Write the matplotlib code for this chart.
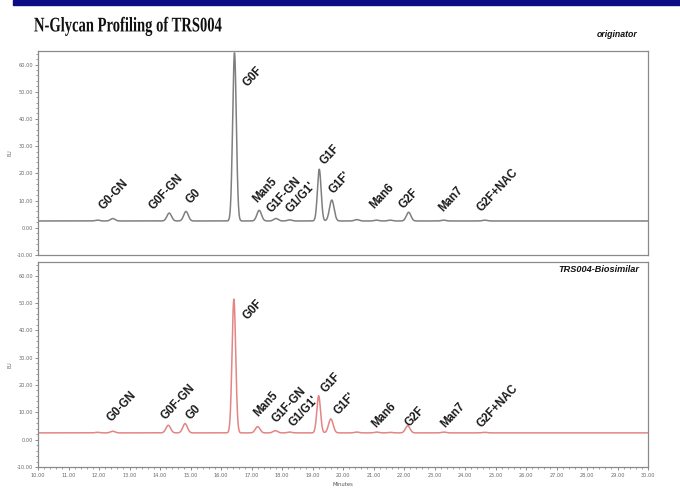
import numpy as np
import matplotlib
matplotlib.use("Agg")
import matplotlib.pyplot as plt
from matplotlib.ticker import MultipleLocator, FuncFormatter
from matplotlib.patheffects import AbstractPathEffect
from matplotlib.transforms import Affine2D, offset_copy

# ---- peak tables (retention time in minutes, apex signal in EU) ----
orig_names = ["", "G0-GN", "G0F-GN", "G0", "G0F", "Man5", "G1F-GN", "G1/G1'",
              "G1F", "G1F'", "", "Man6", "", "G2F", "Man7", "G2F+NAC"]
orig_rt = [11.95, 12.45, 14.30, 14.85, 16.44, 17.25, 17.80, 18.25,
           19.22, 19.63, 20.45, 21.10, 21.55, 22.15, 23.30, 24.65]
orig_apex = [2.8, 3.4, 5.4, 6.0, 64.3, 6.4, 3.4, 2.9,
             21.5, 10.2, 3.0, 2.8, 2.8, 5.7, 2.8, 2.8]

bios_names = ["", "G0-GN", "G0F-GN", "G0", "G0F", "Man5", "G1F-GN", "G1/G1'",
              "G1F", "G1F'", "", "Man6", "", "G2F", "Man7", "G2F+NAC"]
bios_rt = [11.95, 12.45, 14.27, 14.82, 16.42, 17.20, 17.78, 18.25,
           19.20, 19.60, 20.45, 21.10, 21.55, 22.12, 23.30, 24.65]
bios_apex = [2.7, 3.1, 5.3, 5.9, 51.4, 4.8, 3.3, 2.8,
             16.1, 7.6, 2.8, 2.8, 2.7, 5.1, 2.8, 2.7]

baseline_orig = 2.5
baseline_bios = 2.5

# label anchors (minutes, EU) for the rotated peak names
orig_label_at = [None, (12.06, 5.7), (13.70, 5.9), (14.90, 8.1), (16.78, 50.8),
                 (17.08, 8.4), (17.55, 4.8), (18.19, 4.5), (19.30, 22.2),
                 (19.61, 11.5), None, (20.93, 6.3), None, (21.88, 6.3),
                 (23.19, 5.1), (24.45, 5.1)]
bios_label_at = [None, (12.33, 5.9), (14.08, 6.4), (14.92, 6.4), (16.78, 43.0),
                 (17.14, 7.7), (17.74, 5.2), (18.28, 4.0), (19.32, 16.2),
                 (19.75, 8.3), None, (20.99, 3.4), None, (22.10, 4.0),
                 (23.25, 3.4), (24.45, 3.4)]

x_ticks = np.arange(10, 31, 1)
y_ticks = np.arange(-10, 61, 10)


def trace(t, rts, apexes, base):
    sig = np.full_like(t, base)
    for rt, ap in zip(rts, apexes):
        width = 0.06 if ap - base > 8 else 0.075
        sig += (ap - base) * np.exp(-0.5 * ((t - rt) / width) ** 2)
    return sig


class Condense(AbstractPathEffect):
    """Squeeze glyph outlines horizontally about a fixed display x."""

    def __init__(self, sx, x0):
        super().__init__()
        self.sx = sx
        self.x0 = x0

    def draw_path(self, renderer, gc, tpath, affine, rgbFace=None):
        squeeze = Affine2D().translate(-self.x0, 0).scale(self.sx, 1).translate(self.x0, 0)
        renderer.draw_path(gc, tpath, affine + squeeze, rgbFace)


t = np.linspace(10, 30, 6000)

fig = plt.figure(figsize=(6.8, 4.99), dpi=100)
fig.patch.set_facecolor("white")

# navy band across the top
fig.patches.append(plt.Rectangle((0.019, 0.990), 0.981, 0.010,
                                 transform=fig.transFigure,
                                 color="#0c0c84", zorder=5))
title_x = 0.050
fig.text(title_x, 0.937, "N-Glycan Profiling of TRS004",
         family="Liberation Serif", weight="bold", fontsize=15,
         color="#111111", va="baseline", ha="left",
         path_effects=[Condense(0.70, title_x * fig.bbox.width)])
fig.text(0.938, 0.930, "originator", family="Liberation Sans",
         weight="bold", style="italic", fontsize=6.3, color="#111111",
         ha="right", va="center")

ax_top = fig.add_axes([0.056, 0.489, 0.897, 0.409])
ax_bot = fig.add_axes([0.056, 0.064, 0.897, 0.411])

frame_col = "#8a8a8a"
tick_col = "#777777"

for ax in (ax_top, ax_bot):
    ax.set_xlim(10, 30)
    ax.set_ylim(-10, 65)
    for sp in ax.spines.values():
        sp.set_color(frame_col)
        sp.set_linewidth(0.9)
    ax.set_yticks(y_ticks)
    ax.yaxis.set_minor_locator(MultipleLocator(2))
    ax.yaxis.set_major_formatter(FuncFormatter(lambda v, p: f"{v:.2f}"))
    ax.tick_params(axis="y", which="major", direction="out", length=2.5,
                   width=0.6, color=tick_col, labelsize=3.6,
                   labelcolor="#666666", pad=1)
    ax.tick_params(axis="y", which="minor", direction="out", length=1.3,
                   width=0.5, color=tick_col)
    ax.set_ylabel("EU", fontsize=3.6, color="#666666", labelpad=3)

ax_top.tick_params(axis="x", which="both", bottom=False, labelbottom=False)

ax_bot.set_xticks(x_ticks)
ax_bot.xaxis.set_minor_locator(MultipleLocator(0.2))
ax_bot.xaxis.set_major_formatter(FuncFormatter(lambda v, p: f"{v:.2f}"))
ax_bot.tick_params(axis="x", which="major", direction="out", length=2.5,
                   width=0.6, color=tick_col, labelsize=3.6,
                   labelcolor="#666666", pad=2)
ax_bot.tick_params(axis="x", which="minor", direction="out", length=1.3,
                   width=0.5, color=tick_col)
ax_bot.set_xlabel("Minutes", fontsize=3.8, color="#555555", labelpad=3)

ax_top.plot(t, trace(t, orig_rt, orig_apex, baseline_orig),
            color="#7f7f7f", lw=1.1)
ax_bot.plot(t, trace(t, bios_rt, bios_apex, baseline_bios),
            color="#e38585", lw=1.1)

ax_bot.text(0.985, 0.985, "TRS004-Biosimilar", transform=ax_bot.transAxes,
            family="Liberation Sans", weight="bold", style="italic",
            fontsize=6.6, color="#111111", ha="right", va="top")


def put_labels(ax, names, anchors):
    shifted = offset_copy(ax.transData, fig=fig, x=5, y=0, units="dots")
    for name, pos in zip(names, anchors):
        if not name or pos is None:
            continue
        ax.text(pos[0], pos[1], name, rotation=47, rotation_mode="anchor",
                ha="left", va="bottom", family="Liberation Sans",
                weight="bold", fontsize=8.3, color="#1a1a1a",
                transform=shifted)


put_labels(ax_top, orig_names, orig_label_at)
put_labels(ax_bot, bios_names, bios_label_at)

fig.savefig("out.png", dpi=100, facecolor="white")
